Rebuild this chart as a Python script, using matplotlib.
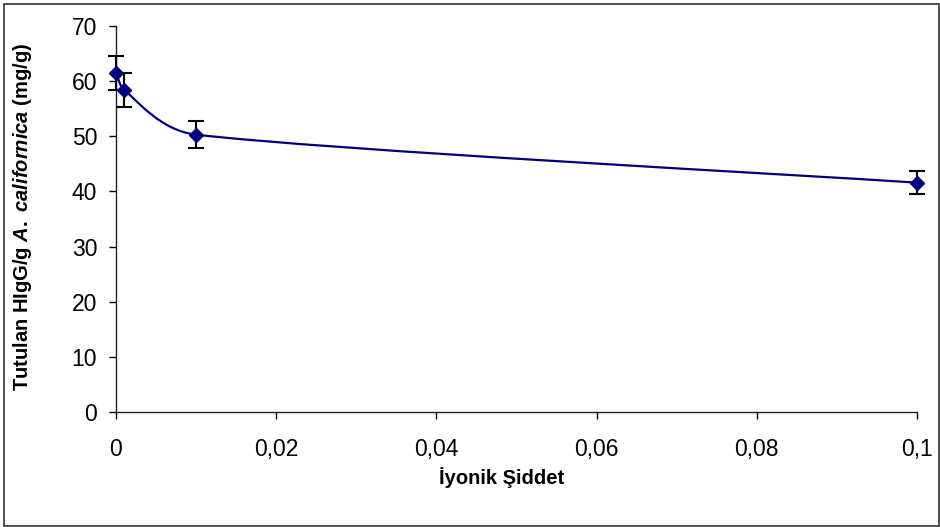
import numpy as np
import matplotlib.pyplot as plt
from matplotlib.path import Path
from matplotlib.patches import PathPatch, Rectangle
from matplotlib.ticker import FuncFormatter

plt.rcParams['font.family'] = ['Liberation Sans', 'DejaVu Sans']
plt.rcParams['mathtext.fontset'] = 'custom'
plt.rcParams['mathtext.it'] = 'Liberation Sans:italic:bold'
plt.rcParams['mathtext.rm'] = 'Liberation Sans:bold'

# data
ionic = [0.0, 0.001, 0.01, 0.1]
bound = [61.5, 58.4, 50.3, 41.6]
err = [3.1, 3.0, 2.5, 2.05]

x_ticks = [0, 0.02, 0.04, 0.06, 0.08, 0.1]
y_ticks = [0, 10, 20, 30, 40, 50, 60, 70]

navy = '#000080'

fig = plt.figure(figsize=(9.4, 5.27), dpi=100)
ax = fig.add_axes([0.1234, 0.218, 0.852, 0.7327])

# smoothed line like Excel: catmull-rom bezier, handles clamped so the curve cannot loop back
pts = np.column_stack([ionic, bound])
n = len(pts)
verts = [pts[0]]
codes = [Path.MOVETO]
for i in range(n - 1):
    p0 = pts[i - 1] if i > 0 else pts[i]
    p1 = pts[i]
    p2 = pts[i + 1]
    p3 = pts[i + 2] if i + 2 < n else pts[i + 1]
    h1 = (p2 - p0) / 6.0
    h2 = (p3 - p1) / 6.0
    lim = (p2[0] - p1[0]) / 2.0
    if h1[0] > lim:
        h1 = h1 * lim / h1[0]
    if h2[0] > lim:
        h2 = h2 * lim / h2[0]
    verts += [p1 + h1, p2 - h2, p2]
    codes += [Path.CURVE4] * 3
ax.add_patch(PathPatch(Path(verts, codes), facecolor='none', edgecolor=navy, lw=1.6, zorder=2,
                       clip_on=False))

ax.errorbar(ionic, bound, yerr=err, fmt='none', ecolor='black', elinewidth=1.5,
            capsize=5.5, capthick=1.5, zorder=3, clip_on=False)
ax.plot(ionic, bound, linestyle='none', marker='D', ms=7.5, color=navy, zorder=4, clip_on=False)

ax.set_xlim(0, 0.1)
ax.set_ylim(0, 70)
ax.set_xticks(x_ticks)
ax.set_yticks(y_ticks)
ax.xaxis.set_major_formatter(FuncFormatter(lambda v, p: ('%g' % v).replace('.', ',')))
ax.tick_params(axis='both', direction='out', length=5, width=1, colors='black', labelsize=16.5)
ax.tick_params(axis='x', pad=13.5)
ax.tick_params(axis='y', pad=8.5)

for s in ['top', 'right']:
    ax.spines[s].set_visible(False)
for s in ['left', 'bottom']:
    ax.spines[s].set_color('#222222')
    ax.spines[s].set_linewidth(1)

ax.set_xlabel('İyonik Şiddet', fontsize=14.5, fontweight='bold')
ax.xaxis.set_label_coords((502 - 116) / 801, -0.1425)
ax.set_ylabel(r'Tutulan HIgG/g $\mathit{A.\ californica}$ (mg/g)', fontsize=14.5, fontweight='bold')
ax.yaxis.set_label_coords(-0.102, 0.505)

fig.patches.append(Rectangle((4 / 940, 1 / 527), 935 / 940, 522 / 527, transform=fig.transFigure,
                             fill=False, edgecolor='#333333', lw=1.2))

fig.savefig('out.png', dpi=100)
